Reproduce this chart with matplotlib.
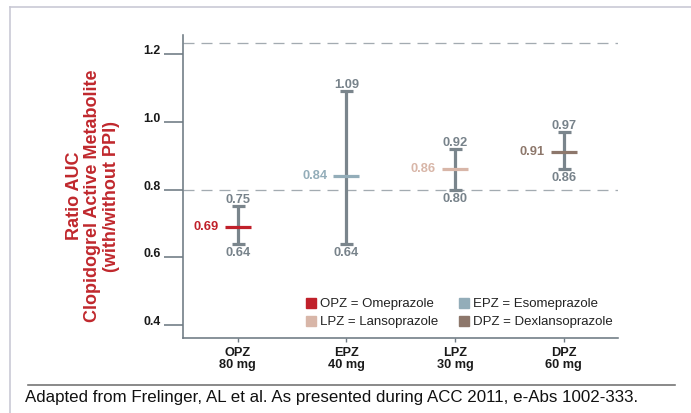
import matplotlib
matplotlib.use("Agg")
import matplotlib.pyplot as plt
from matplotlib.lines import Line2D

plt.rcParams['font.family'] = ['Liberation Sans', 'DejaVu Sans']

# ---- data ----
categories = ["OPZ\n80 mg", "EPZ\n40 mg", "LPZ\n30 mg", "DPZ\n60 mg"]
means = [0.69, 0.84, 0.86, 0.91]
lows = [0.64, 0.64, 0.80, 0.86]
highs = [0.75, 1.09, 0.92, 0.97]
colors = ["#c0202a", "#93adb9", "#d8b6a8", "#8d776b"]
legend_labels = ["OPZ = Omeprazole", "EPZ = Esomeprazole",
                 "LPZ = Lansoprazole", "DPZ = Dexlansoprazole"]
yticks = [0.4, 0.6, 0.8, 1.0, 1.2]
ref_lines = [0.8, 1.232]
caption = "Adapted from Frelinger, AL et al. As presented during ACC 2011, e-Abs 1002-333."

W, H, DPI = 691, 413, 100
fig = plt.figure(figsize=(W / DPI, H / DPI), dpi=DPI)
PX = 72.0 / DPI  # points per pixel

def fx(px):
    return px / W

def fy(py):
    return 1 - py / H

ax = fig.add_axes([fx(183.3), fy(338), fx(618) - fx(183.3), fy(35) - fy(338)])
ax.set_xlim(-0.5, 3.5)
ax.set_ylim(0.3615, 1.2565)

axis_gray = "#6e7a83"
bar_gray = "#7a858c"
label_gray = "#77828a"

for s in ["top", "right"]:
    ax.spines[s].set_visible(False)
for s in ["left", "bottom"]:
    ax.spines[s].set_color(axis_gray)
    ax.spines[s].set_linewidth(1.6 * PX)

# reference dashed lines
for v in ref_lines:
    ax.axhline(v, color="#a3abb1", lw=1.3 * PX, dashes=(11 / 1.3, 7 / 1.3), zorder=1)

x = list(range(len(categories)))
yerr = [[m - l for m, l in zip(means, lows)], [h - m for h, m in zip(highs, means)]]
ax.errorbar(x, means, yerr=yerr, fmt="none", ecolor=bar_gray,
            elinewidth=3.2 * PX, capsize=6.5 * PX, capthick=3.2 * PX, zorder=2)
for xi, m, c in zip(x, means, colors):
    ax.plot([xi], [m], marker="_", markersize=27 * PX, mew=3.2 * PX, color=c, zorder=3)

vfs = 9.3
for xi, m, lo, hi, c in zip(x, means, lows, highs, colors):
    ax.annotate(f"{hi:.2f}", (xi, hi), xytext=(0, 0.3 * PX), textcoords="offset points",
                ha="center", va="bottom", fontsize=vfs, fontweight="bold", color=label_gray)
    ax.annotate(f"{lo:.2f}", (xi, lo), xytext=(0, -3 * PX), textcoords="offset points",
                ha="center", va="top", fontsize=vfs, fontweight="bold", color=label_gray)
    ax.annotate(f"{m:.2f}", (xi, m), xytext=(-19 * PX, 0), textcoords="offset points",
                ha="right", va="center", fontsize=vfs, fontweight="bold", color=c)

# ticks
ax.set_yticks(yticks)
ax.set_yticklabels([f"{t:.1f}" for t in yticks], fontsize=8.9, fontweight="bold", color="#1a1a1a")
for lbl in ax.get_yticklabels():
    lbl.set_verticalalignment("baseline")
ax.tick_params(axis="y", length=19.5 * PX, width=1.6 * PX, color=axis_gray, pad=3 * PX)

ax.set_xticks(x)
ax.set_xticklabels(categories, fontsize=9.2, fontweight="bold", color="#1a1a1a", linespacing=1.05)
ax.tick_params(axis="x", length=4 * PX, width=1.4 * PX, color=axis_gray, pad=5 * PX)

# y label
fig.text(fx(93), fy(196), "Ratio AUC\nClopidogrel Active Metabolite\n(with/without PPI)",
         rotation=90, ha="center", va="center", multialignment="center",
         fontsize=13, fontweight="bold", color="#c0282d", linespacing=1.12)

# legend
order = [0, 2, 1, 3]
handles = [Line2D([], [], marker="s", linestyle="", markersize=10 * PX, color=colors[i]) for i in order]
labels_ordered = [legend_labels[i] for i in order]
leg = ax.legend(handles, labels_ordered, ncol=2, loc="upper left",
                bbox_to_anchor=(fx(305), fy(298)), bbox_transform=fig.transFigure,
                frameon=False, fontsize=9.5, handlelength=0.9, handletextpad=0.25,
                columnspacing=1.5, labelspacing=0.45, borderpad=0, borderaxespad=0)
for t in leg.get_texts():
    t.set_color("#222222")

# frame and caption
frame_c = "#c8c8d4"
fig.add_artist(Line2D([fx(10), fx(10)], [fy(7), fy(413)], color=frame_c, lw=1.6 * PX, transform=fig.transFigure))
fig.add_artist(Line2D([fx(10), fx(691)], [fy(7), fy(7)], color=frame_c, lw=1.6 * PX, transform=fig.transFigure))
fig.add_artist(Line2D([fx(28), fx(675)], [fy(385), fy(385)], color="#707070", lw=1.6 * PX, transform=fig.transFigure))
fig.text(fx(25), fy(397.5), caption, ha="left", va="center", fontsize=12.15, color="#111111")

fig.savefig("out.png", dpi=DPI)
